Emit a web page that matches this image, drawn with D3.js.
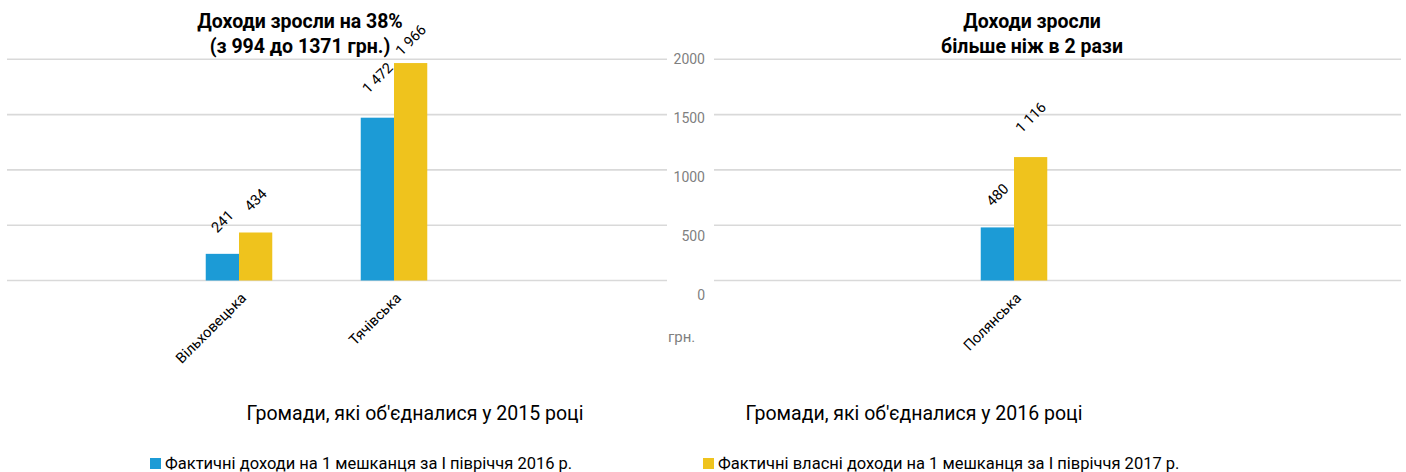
<!DOCTYPE html>
<html lang="uk">
<head>
<meta charset="utf-8">
<script src="https://cdn.jsdelivr.net/npm/d3@7"></script>
<style>
  html, body { margin: 0; padding: 0; background: #fff; }
  svg { display: block; font-family: Roboto, "Open Sans", sans-serif; }
</style>
</head>
<body>
<svg id="chart" width="1406" height="472"></svg>
<script>
// Communities merged in 2015
const categories2015 = ["Вільховецька", "Тячівська"];
const income2016Group2015 = [241, 1472];
const income2017Group2015 = [434, 1966];

// Communities merged in 2016
const categories2016 = ["Полянська"];
const income2016Group2016 = [480];
const income2017Group2016 = [1116];

const seriesNames = [
  "Фактичні доходи на 1 мешканця за І півріччя 2016 р.",
  "Фактичні власні доходи на 1 мешканця за І півріччя 2017 р."
];
const seriesColors = ["#1c9bd6", "#efc31d"];
const yTicks = [0, 500, 1000, 1500, 2000];

const panelTitles2015 = ["Доходи зросли на 38%", "(з 994 до 1371 грн.)"];
const panelTitles2016 = ["Доходи зросли", "більше ніж в 2 рази"];
const axisTitle2015 = "Громади, які об'єдналися у 2015 році";
const axisTitle2016 = "Громади, які об'єдналися у 2016 році";
const unitLabel = "грн.";

const svg = d3.select("#chart");

// shared value scale for both panels
const y = d3.scaleLinear().domain([0, 2000]).range([280.5, 59.3]);
// the tick labels sit on a slightly taller scale than the gridlines
const yLabels = d3.scaleLinear().domain([0, 2000]).range([294.7, 59]);

const fmt = v => d3.format(",")(v).replace(/,/g, " ");

function drawPanel(opts) {
  const g = svg.append("g");
  const data = opts.categories.map((c, i) => ({
    category: c,
    values: opts.series.map((s, k) => ({ k, v: s[i] }))
  }));

  // gridlines
  g.append("g").selectAll("line").data(yTicks).join("line")
    .attr("x1", opts.gridX[0]).attr("x2", opts.gridX[1])
    .attr("y1", d => y(d)).attr("y2", d => y(d))
    .attr("stroke", "#d9d9d9").attr("stroke-width", 1.6);

  const x0 = d3.scaleBand().domain(opts.categories).range(opts.bandRange);
  const x1 = d3.scaleBand().domain(d3.range(opts.series.length))
    .range([0, x0.bandwidth()]).paddingOuter(opts.outerPad).paddingInner(0);

  const groups = g.append("g").selectAll("g").data(data).join("g")
    .attr("transform", d => `translate(${x0(d.category)},0)`);

  groups.selectAll("rect").data(d => d.values).join("rect")
    .attr("x", d => x1(d.k))
    .attr("width", x1.bandwidth())
    .attr("y", d => y(d.v))
    .attr("height", d => y(0) - y(d.v))
    .attr("fill", d => seriesColors[d.k]);

  // rotated value labels above each bar
  groups.selectAll("text.value").data(d => d.values).join("text")
    .attr("class", "value")
    .attr("text-anchor", "middle")
    .attr("dy", "0.35em")
    .attr("font-size", 14.5)
    .attr("fill", "#000")
    .text(d => fmt(d.v))
    .each(function (d) {
      const w = this.getComputedTextLength();
      const cx = x1(d.k) + x1.bandwidth() / 2;
      const cy = Math.max(y(d.v) - (18 + w * 0.6), 40);
      d3.select(this).attr("transform", `translate(${cx},${cy}) rotate(-45)`);
    });

  // rotated category labels
  g.append("g").selectAll("text").data(opts.categories).join("text")
    .attr("text-anchor", "end")
    .attr("font-size", 14.5)
    .attr("fill", "#000")
    .attr("transform", d => `translate(${x0(d) + x0.bandwidth() / 2 + 8},299) rotate(-45)`)
    .text(d => d);

  // titles
  const t = g.append("text").attr("text-anchor", "middle")
    .attr("font-weight", "bold").attr("font-size", 19.5).attr("fill", "#000");
  opts.titles.forEach((line, i) => {
    t.append("tspan").attr("x", opts.titleX).attr("y", 28 + i * 25).text(line);
  });

  g.append("text").attr("text-anchor", "middle")
    .attr("x", opts.axisTitleX).attr("y", 420)
    .attr("font-size", 19.5).attr("fill", "#000")
    .text(opts.axisTitle);
}

drawPanel({
  categories: categories2015,
  series: [income2016Group2015, income2017Group2015],
  gridX: [7, 667],
  bandRange: [161.5, 471.5],
  outerPad: 1.33,
  titles: panelTitles2015,
  titleX: 300,
  axisTitle: axisTitle2015,
  axisTitleX: 415
});

drawPanel({
  categories: categories2016,
  series: [income2016Group2016, income2017Group2016],
  gridX: [714, 1401],
  bandRange: [936.5, 1091.5],
  outerPad: 1.33,
  titles: panelTitles2016,
  titleX: 1032,
  axisTitle: axisTitle2016,
  axisTitleX: 914
});

// value axis labels between the panels
const axis = d3.axisLeft(yLabels).tickValues(yTicks).tickSize(0).tickPadding(0)
  .tickFormat(d3.format("d"));
const ax = svg.append("g").attr("transform", "translate(705,0)").call(axis);
ax.select(".domain").remove();
ax.selectAll("text").attr("font-size", 14).attr("fill", "#7f7f7f")
  .attr("font-family", "Roboto, 'Open Sans', sans-serif");

svg.append("text").attr("x", 668).attr("y", 342)
  .attr("font-size", 15).attr("fill", "#7f7f7f").text(unitLabel);

// legend
const legendItems = [{ x: 150 }, { x: 703 }];
const legend = svg.append("g").selectAll("g").data(seriesNames).join("g")
  .attr("transform", (d, i) => `translate(${legendItems[i].x},458)`);
legend.append("rect").attr("width", 11).attr("height", 11)
  .attr("fill", (d, i) => seriesColors[i]);
legend.append("text").attr("x", 15).attr("y", 11)
  .attr("font-size", 16.5).attr("fill", "#000").text(d => d);
</script>
</body>
</html>
